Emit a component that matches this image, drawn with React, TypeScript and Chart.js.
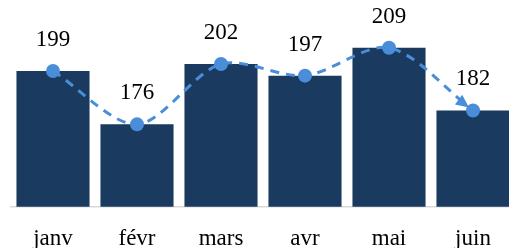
import React, { useEffect, useRef } from "react";
import { Chart, registerables } from "chart.js";

Chart.register(...registerables);

const months = ["janv", "févr", "mars", "avr", "mai", "juin"];
const values = [199, 176, 202, 197, 209, 182];

const BAR_COLOR = "#1A3A5F";
const LINE_COLOR = "#4A8DD8";
const FONT = "'Liberation Serif', 'Times New Roman', serif";

const labelPlugin = {
  id: "valueLabels",
  afterDatasetsDraw(chart: any) {
    const ctx = chart.ctx;
    const meta = chart.getDatasetMeta(1);
    const pts = meta.data;
    if (pts.length >= 2) {
      const a = pts[pts.length - 2];
      const b = pts[pts.length - 1];
      const ang = Math.atan2(b.y - a.y, b.x - a.x);
      const tipDist = 5;
      const tx = b.x - Math.cos(ang) * tipDist;
      const ty = b.y - Math.sin(ang) * tipDist;
      const len = 13;
      const half = 6;
      const bx = tx - Math.cos(ang) * len;
      const by = ty - Math.sin(ang) * len;
      ctx.save();
      ctx.fillStyle = LINE_COLOR;
      ctx.beginPath();
      ctx.moveTo(tx, ty);
      ctx.lineTo(bx + Math.sin(ang) * half, by - Math.cos(ang) * half);
      ctx.lineTo(bx - Math.sin(ang) * half, by + Math.cos(ang) * half);
      ctx.closePath();
      ctx.fill();
      ctx.restore();
    }
    ctx.save();
    ctx.font = `23px ${FONT}`;
    ctx.fillStyle = "#000";
    ctx.textAlign = "center";
    ctx.textBaseline = "middle";
    pts.forEach((p: any, i: number) => {
      ctx.fillText(String(values[i]), p.x, p.y - 31);
    });
    ctx.restore();
  },
};

export default function App() {
  const ref = useRef<HTMLCanvasElement | null>(null);
  useEffect(() => {
    document.body.style.margin = "0";
    document.body.style.overflow = "hidden";
    const chart = new Chart(ref.current!, {
      type: "bar",
      data: {
        labels: months,
        datasets: [
          {
            type: "bar",
            data: values,
            backgroundColor: BAR_COLOR,
            barPercentage: 0.87,
            categoryPercentage: 1,
            order: 1,
          },
          {
            type: "line",
            data: values,
            borderColor: LINE_COLOR,
            backgroundColor: LINE_COLOR,
            borderWidth: 3,
            borderDash: [9, 7],
            tension: 0.3,
            pointRadius: 7,
            pointBackgroundColor: LINE_COLOR,
            pointBorderWidth: 0,
            order: 0,
            clip: false,
          } as any,
        ],
      },
      options: {
        animation: false,
        responsive: false,
        maintainAspectRatio: false,
        layout: { autoPadding: false, padding: { left: 11, right: 1, top: 0, bottom: 0 } },
        plugins: { legend: { display: false }, tooltip: { enabled: false } },
        scales: {
          x: {
            grid: { display: false, drawTicks: false },
            border: { display: true, color: "#D9D9D9", width: 1.5 },
            ticks: {
              color: "#000",
              font: { family: FONT, size: 23 },
              padding: 18.5,
              maxRotation: 0,
              autoSkip: false,
            },
            afterFit: (scale: any) => {
              scale.height = 41.3;
            },
          },
          y: {
            display: false,
            min: 140.5,
            max: 229.6,
          },
        },
      },
      plugins: [labelPlugin],
    });
    return () => chart.destroy();
  }, []);
  return (
    <div style={{ position: "relative", width: 509, height: 248, overflow: "hidden" }}>
      <canvas
        ref={ref}
        width={516}
        height={248}
        style={{ position: "absolute", left: 0, top: 0, width: 516, height: 248, display: "block" }}
      />
    </div>
  );
}
